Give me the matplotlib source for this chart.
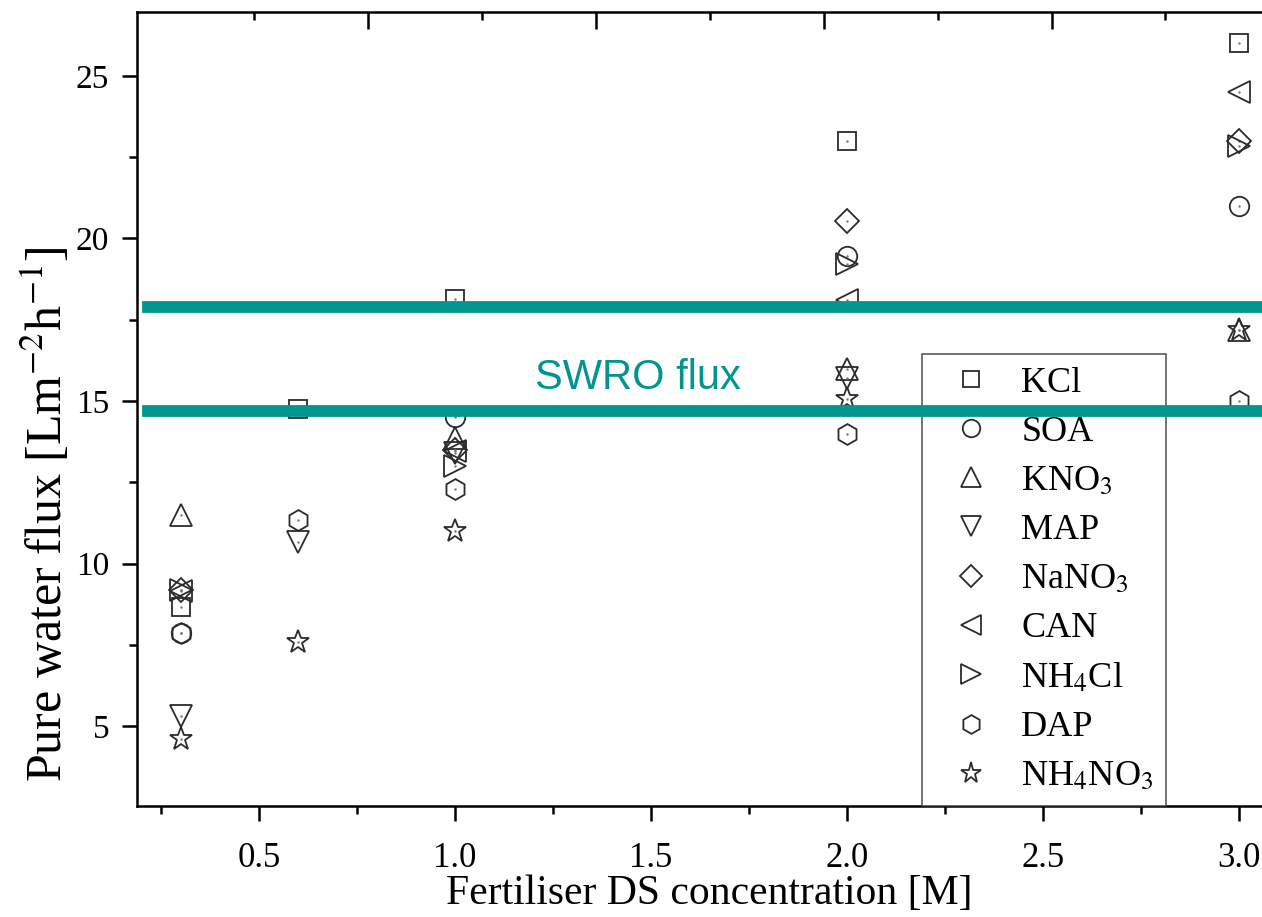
import numpy as np
import matplotlib
matplotlib.use('Agg')
from matplotlib import pyplot as plt

plt.rcParams['font.family'] = ['Liberation Serif', 'DejaVu Serif']
plt.rcParams['mathtext.fontset'] = 'stix'

# data
conc = [0.3, 0.6, 1.0, 2.0, 3.0]
names = ['KCl', 'SOA', 'KNO$_3$', 'MAP', 'NaNO$_3$', 'CAN', 'NH$_4$Cl', 'DAP', 'NH$_4$NO$_3$']
kcl = [8.65, 14.75, 18.15, 23.0, 26.0]
soa = [7.85, np.nan, 14.5, 19.45, 21.0]
kno3 = [11.5, np.nan, 13.85, 16.0, 17.2]
map_ = [5.3, 10.65, 13.4, 15.7, np.nan]
nano3 = [9.2, np.nan, 13.5, 20.55, 23.0]
can = [9.15, np.nan, 13.45, 18.1, 24.5]
nh4cl = [9.2, np.nan, 13.0, 19.2, 22.85]
dap = [7.85, 11.35, 12.3, 14.0, 15.0]
nh4no3 = [4.6, 7.6, 11.0, 15.05, 17.2]
series = [kcl, soa, kno3, map_, nano3, can, nh4cl, dap, nh4no3]

swro_lines = [17.9, 14.7]
swro_label = 'SWRO flux'

markers = ['s', 'o', '^', 'v', 'D', '<', '>', 'h', '*']
msizes = [13, 14, 16, 16, 12.5, 16, 16, 15, 17]
teal = '#00968F'
edge = '#2b2b2b'

fig = plt.figure(figsize=(12.62, 9.17), dpi=100)
ax = fig.add_axes([0.1086, 0.121, 0.951, 0.866])

for ys, name, m, ms in zip(series, names, markers, msizes):
    ax.plot(conc, ys, linestyle='none', marker=m, markersize=ms, markerfacecolor='none',
            markeredgecolor=edge, markeredgewidth=1.3, label=name)
    ax.plot(conc, ys, linestyle='none', marker='.', markersize=1.5, color='#777777')

ax.set_xlim(0.189, 3.25)
ax.set_ylim(2.54, 26.97)

ax.set_xticks([0.5, 1.0, 1.5, 2.0, 2.5, 3.0])
ax.set_xticks([0.25, 0.75, 1.25, 1.75, 2.25, 2.75], minor=True)
ax.set_yticks([5, 10, 15, 20, 25])
ax.set_yticks([7.5, 12.5, 17.5, 22.5], minor=True)
ax.tick_params(which='both', direction='out', width=1.8, labelsize=25, top=False, right=False)
ax.tick_params(axis='y', labelsize=24)
ax.tick_params(axis='x', which='major', length=11, pad=15)
ax.tick_params(axis='x', which='minor', length=6)
ax.tick_params(axis='y', which='major', length=11, pad=9)
ax.tick_params(axis='y', which='minor', length=6)
for s in ax.spines.values():
    s.set_linewidth(1.8)

# top axis of the original has its own tick spacing
top = ax.twiny()
top.set_xlim(ax.get_xlim())
top.set_xticks([0.778, 1.359, 1.941, 2.522, 3.103])
top.set_xticks([0.487, 1.069, 1.65, 2.231, 2.812], minor=True)
top.tick_params(which='both', direction='in', width=1.8, labeltop=False)
top.tick_params(which='major', length=12)
top.tick_params(which='minor', length=6)
for s in top.spines.values():
    s.set_visible(False)

ax.set_xlabel('Fertiliser DS concentration [M]', fontsize=30)
ax.xaxis.set_label_coords(0.477, -0.086)
ax.set_ylabel('Pure water flux [Lm$^{-2}$h$^{-1}$]', fontsize=36)
ax.yaxis.set_label_coords(-0.053, 0.368)

leg = ax.legend(loc='lower left', bbox_to_anchor=(0.654, 0.0), borderaxespad=0,
                fontsize=26, frameon=True, fancybox=False, markerscale=0.9,
                handlelength=2.0, handletextpad=0.4, labelspacing=0.44, borderpad=0.35)
leg.get_frame().set_edgecolor('#333333')
leg.get_frame().set_linewidth(1.2)
leg.set_zorder(4)

for yv in swro_lines:
    ax.axhline(yv, xmin=0.009, color=teal, linewidth=8.5, zorder=6)
ax.text(1.467, 15.7, swro_label, color=teal, fontsize=30, family='Liberation Sans',
        ha='center', va='center', zorder=7)

fig.savefig('out.png', dpi=100)
